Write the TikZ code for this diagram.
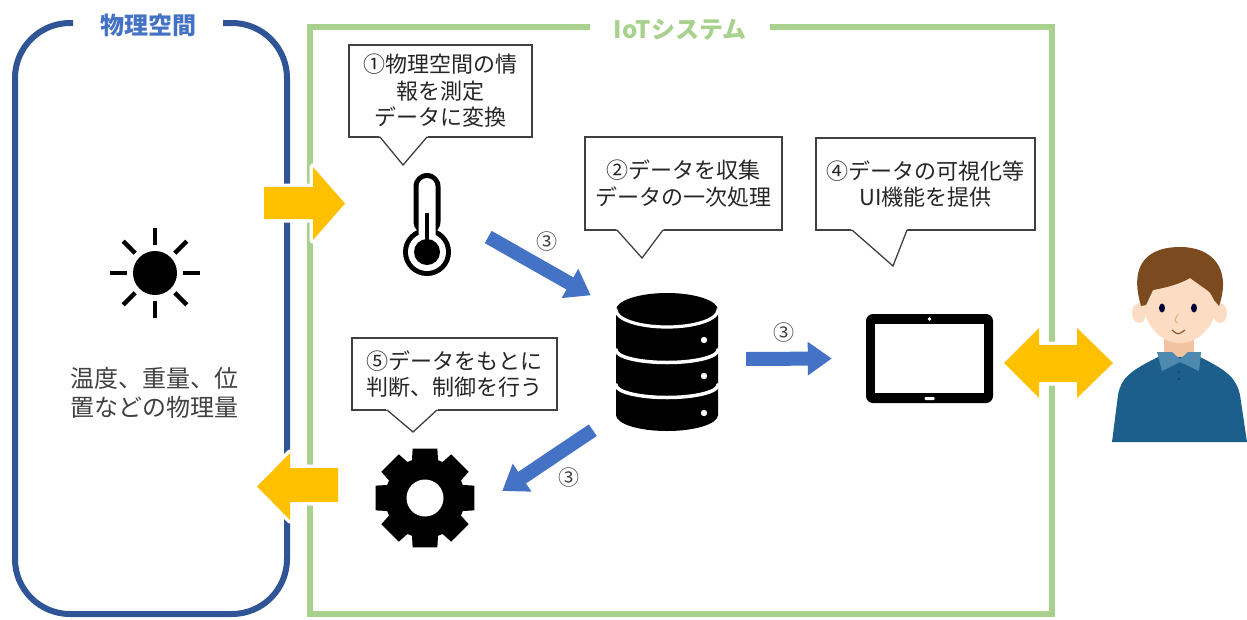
\documentclass[tikz,border=0pt]{standalone}
\usepackage{fontspec}
\newfontfamily\jpfont{Noto Sans CJK JP}
\usetikzlibrary{arrows.meta}

\definecolor{physblue}{HTML}{2F5597}
\definecolor{titleblue}{HTML}{4472C4}
\definecolor{iotgreen}{HTML}{A9D18E}
\definecolor{flowyellow}{HTML}{FFC000}
\definecolor{flowblue}{HTML}{4472C4}
\definecolor{textgray}{HTML}{404040}
\definecolor{skin}{HTML}{FCDDC4}
\definecolor{skinshade}{HTML}{F1C3A0}
\definecolor{hair}{HTML}{7B4B1F}
\definecolor{shirt}{HTML}{1C5F8C}
\definecolor{collar}{HTML}{4E8AB0}

\begin{document}
\begin{tikzpicture}[
        x=1pt, y=-1pt,
        title/.style={inner sep=0, font={\jpfont\bfseries\fontsize{24}{28}\selectfont}},
        callbox/.style={draw=black!75, line width=1.3pt, fill=white, align=center, inner sep=0,
            text=black!85, font={\jpfont\fontsize{22}{26.5}\selectfont}},
        tail/.style={draw=black!75, line width=1.3pt},
        icon/.style={inner sep=0},
        flow/.style={draw=flowblue, line width=14pt, -{Triangle[length=24pt, width=32pt]}},
        num/.style={inner sep=0, text=textgray, font={\jpfont\fontsize{21}{24}\selectfont}},
        bigarrow/.style={fill=flowyellow, preaction={draw=white, line width=7pt, line join=round}}
    ]
        \fill[white] (0,0) rectangle (1247,619);
        \useasboundingbox (0,0) rectangle (1247,619);

        % Physical space
        \draw[physblue, line width=6pt, rounded corners=55pt] (73,23) -- (15,23) -- (15,614) -- (287,614) -- (287,23) -- (223,23);
        \node[title, text=titleblue] (physlabel) at (148,25) {物理空間};
        \node[icon, minimum size=90pt] (sun) at (155,273) {};
        \fill (sun.center) circle (22);
        \foreach \a in {0,45,...,315}
            \draw[line width=4.5pt] ([shift={(\a:28)}]sun.center) -- ([shift={(\a:45)}]sun.center);
        \node[inner sep=0, align=center, text=textgray, font={\jpfont\fontsize{24}{29}\selectfont}] (quantity) at (154,392.5) {温度、重量、位\\置などの物理量};

        % IoT system
        \draw[iotgreen, line width=6pt] (590,27) -- (310,27) -- (310,614) -- (1052,614) -- (1052,27) -- (770,27);
        \node[title, text=iotgreen] (iotlabel) at (680,30) {IoTシステム};

        % Thermometer
        \node[icon, minimum width=48pt, minimum height=104pt] (thermo) at (427,225) {};
        \begin{scope}[shift={(thermo.center)}]
            \fill (0,27) circle (24);
            \fill[rounded corners=13.5pt] (-13.5,-52) rectangle (13.5,10);
            \fill[white] (0,27) circle (19);
            \fill[white, rounded corners=8.5pt] (-8.5,-47) rectangle (8.5,20);
            \fill (0,27) circle (13);
            \fill (-2.3,-12) rectangle (2.3,27);
        \end{scope}

        % Database
        \node[icon, minimum width=102pt, minimum height=140pt] (db) at (667,362) {};
        \begin{scope}[shift={(db.center)}]
            \fill (-51,-52) arc[start angle=180, end angle=360, x radius=51, y radius=17]
                -- (51,53) arc[start angle=0, end angle=180, x radius=51, y radius=16] -- cycle;
            \draw[white, line width=3.2pt] (-55,-52) -- (-51,-52) arc[start angle=180, end angle=0, x radius=51, y radius=17] -- (55,-52);
            \foreach \y in {-12,23}
                \draw[white, line width=3.5pt] (-55,\y) -- (-51,\y) arc[start angle=180, end angle=0, x radius=51, y radius=12.5] -- (55,\y);
            \foreach \y in {-22,14,51}
                \fill[white] (37,\y) circle (3.2);
        \end{scope}

        % Tablet
        \node[icon, minimum width=127pt, minimum height=89pt] (tablet) at (929.5,358.5) {};
        \begin{scope}[shift={(tablet.center)}]
            \fill[rounded corners=7pt] (-63.5,-44.5) rectangle (63.5,44.5);
            \fill[white] (-54.5,-34.5) rectangle (54.5,34.5);
            \fill[white] (0,-39.5) circle (1.8);
            \fill[white, rounded corners=1pt] (-5,38.5) rectangle (5,41.5);
        \end{scope}

        % Gear
        \node[icon, minimum size=102pt] (gear) at (425,498) {};
        \begin{scope}[shift={(gear.center)}]
            \fill (-19:40) \foreach \a in {0,45,...,315} {
                -- (\a-19:40) -- (\a-14:51) -- (\a+14:51) -- (\a+19:40)
                arc[start angle=\a+19, end angle=\a+26, radius=40] } -- cycle;
            \fill[white] (0,0) circle (18.5);
        \end{scope}

        % User
        \node[icon, minimum width=135pt, minimum height=196pt] (user) at (1180,344) {};
        \fill[skinshade] (1164,328) rectangle (1194,362);
        \fill[shirt] (1112,442) -- (1118,395) .. controls (1121,378) and (1130,371) .. (1158,357)
            -- (1200,357) .. controls (1228,371) and (1236,378) .. (1240,395) -- (1247,442) -- cycle;
        \fill[collar] (1157,352) -- (1172,352) -- (1180,359) -- (1188,352) -- (1201,352)
            -- (1199,371) -- (1180,362) -- (1162,371) -- cycle;
        \fill[shirt!70!black] (1179,372) circle (1.2) (1179,379) circle (1.2);
        \fill[skin] (1139,313) ellipse (7 and 10) (1220,313) ellipse (7 and 10);
        \fill[skin] (1180,300) ellipse (37 and 43);
        \fill[hair] (1141,306) .. controls (1128,262) and (1150,247) .. (1180,247)
            .. controls (1212,247) and (1232,268) .. (1219,306) -- (1214,300)
            .. controls (1210,292) .. (1204,288) -- (1190,278)
            .. controls (1180,284) and (1165,288) .. (1153,290) -- (1146,305) -- cycle;
        \fill[black!80!blue] (1162,308) ellipse (3 and 4.5) (1194,308) ellipse (3 and 4.5);
        \draw[skinshade!70!brown, line width=1pt] (1178,314) .. controls (1174,321) .. (1178,323);
        \draw[brown!70!black, line width=1.2pt] (1172,330) .. controls (1178,335) .. (1185,330);

        % Data flow
        \draw[flow] ([shift={(37,12)}]thermo.east) -- node[num, midway, shift={(7,-25)}] {③} ([shift={(-25,3.5)}]db.north west);
        \draw[flow] ([xshift=28pt, yshift=3pt]db.east) -- node[num, midway, shift={(-5,-26)}] {③} ([xshift=-34pt]tablet.west);
        \draw[flow] ([shift={(-23,-2)}]db.south west) -- node[num, midway, shift={(21,17)}] {③} ([shift={(26,-7)}]gear.east);

        % Input, output and user arrows
        \fill[bigarrow] (264,187) -- (313,187) -- (313,167) -- (345,203.5) -- (313,240) -- (313,219) -- (264,219) -- cycle;
        \fill[bigarrow] (338,468) -- (290,468) -- (290,453) -- (257,486.5) -- (290,520) -- (290,502) -- (338,502) -- cycle;
        \fill[bigarrow] (1004,363) -- (1039,328) -- (1039,345) -- (1077,345) -- (1077,328) -- (1113,363)
            -- (1077,398) -- (1077,382) -- (1039,382) -- (1039,398) -- cycle;

        % Callouts
        \node[callbox, minimum width=183pt, minimum height=92pt] (sense) at (440.5,91) {①物理空間の情\\報を測定\\データに変換};
        \fill[white] (377.5,134) -- (403,165) -- (429.6,134) -- cycle;
        \draw[tail] (380,137) -- (403,165) -- (427,137);

        \node[callbox, minimum width=197pt, minimum height=93pt] (collect) at (683.5,183.5) {②データを収集\\データの一次処理};
        \fill[white] (614.3,227) -- (642,258) -- (665.3,227) -- cycle;
        \draw[tail] (617,230) -- (642,258) -- (663,230);

        \node[callbox, minimum width=219pt, minimum height=92pt] (visual) at (925.5,184) {④データの可視化等\\UI機能を提供};
        \fill[white] (848.6,227) -- (893,266) -- (908.2,227) -- cycle;
        \draw[tail] (852,230) -- (893,266) -- (907,230);

        \node[callbox, minimum width=205pt, minimum height=72pt] (control) at (454.5,374) {⑤データをもとに\\判断、制御を行う};
        \fill[white] (383.5,407) -- (413,432) -- (440.3,407) -- cycle;
        \draw[tail] (387,410) -- (413,432) -- (437,410);

    \end{tikzpicture}
\end{document}
